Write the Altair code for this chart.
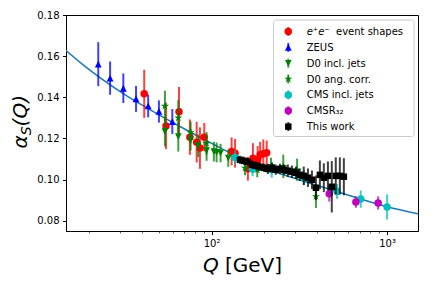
import altair as alt
import pandas as pd

# ---------------- data ----------------
ee_q = [41.3, 55.0, 65.2, 75.2, 82.2, 85.8, 90.8, 130, 136, 161, 172, 183, 189, 197, 206]
ee_a = [0.1417, 0.1261, 0.1330, 0.1206, 0.1182, 0.1153, 0.1206, 0.1137, 0.1128, 0.1052,
        0.1104, 0.1098, 0.1121, 0.1125, 0.1130]
ee_e = [0.0117, 0.0113, 0.0120, 0.0086, 0.0099, 0.0101, 0.0069, 0.0068, 0.0070, 0.0057,
        0.0073, 0.0065, 0.0062, 0.0070, 0.0060]

zeus_q = [22.6, 26.4, 31.4, 37.1, 43.5, 50.1, 59.7]
zeus_a = [0.1561, 0.1493, 0.1444, 0.1392, 0.1358, 0.1331, 0.1282]
zeus_e = [0.0107, 0.0081, 0.0072, 0.0063, 0.0055, 0.0054, 0.0061]

d0i_q = [54.2, 64.6, 75.9, 83.9, 93.6, 103, 106.8, 112.5, 124.4]
d0i_a = [0.1233, 0.1209, 0.1193, 0.1164, 0.1141, 0.1136, 0.1132, 0.1129, 0.1104]
d0i_e = [0.0072, 0.0073, 0.0052, 0.0055, 0.0050, 0.0048, 0.0048, 0.0045, 0.0042]

d0a_q = [54.2, 64.6, 75.9, 93.6, 155, 182, 218, 256, 307, 393]
d0a_a = [0.1357, 0.1300, 0.1229, 0.1176, 0.1056, 0.1048, 0.1069, 0.1064, 0.1048, 0.0918]
d0a_e = [0.0075, 0.0087, 0.0053, 0.0055, 0.0035, 0.0037, 0.0037, 0.0057, 0.0054, 0.0056]

cms_q = [136, 171, 220, 336, 519, 708, 1000]
cms_a = [0.1107, 0.1051, 0.1048, 0.1009, 0.0942, 0.0905, 0.0867]
cms_e = [0.0035, 0.0035, 0.0039, 0.0035, 0.0036, 0.0042, 0.0061]

r32_q = [468, 664, 889]
r32_a = [0.0931, 0.0891, 0.0886]
r32_e = [0.0038, 0.0028, 0.0032]

tw_q = [145, 153, 161, 170, 179, 188, 199, 209, 221, 232, 245, 258, 272, 287, 302, 318,
        335, 354, 373, 393, 414, 436, 460, 484, 510, 538, 567]
tw_a = [0.1096, 0.1091, 0.1086, 0.1072, 0.1067, 0.1062, 0.1057, 0.1052, 0.1057, 0.1048,
        0.1052, 0.1048, 0.1043, 0.1038, 0.1033, 0.1023, 0.1018, 0.1009, 0.0999, 0.0960,
        0.1023, 0.1009, 0.1018, 0.0965, 0.1018, 0.1018, 0.1014]
tw_e = [0.0020, 0.0020, 0.0020, 0.0020, 0.0020, 0.0020, 0.0020, 0.0025, 0.0025, 0.0025,
        0.0025, 0.0025, 0.0030, 0.0030, 0.0030, 0.0030, 0.0045, 0.0045, 0.0045, 0.0060,
        0.0070, 0.0070, 0.0070, 0.0125, 0.0090, 0.0090, 0.0090]

curve_q = [14.8, 19.0, 32.0, 44.5, 66.0, 111.5, 165, 300, 538, 1000, 1500]
curve_a = [0.1627, 0.1550, 0.1413, 0.1340, 0.1258, 0.1155, 0.1082, 0.1005, 0.0937, 0.0868, 0.0834]

legend_labels = ["event shapes", "ZEUS", "D0 incl. jets", "D0 ang. corr.",
                 "CMS incl. jets", "CMSR₃₂", "This work"]

x_major = [100, 1000]
x_minor = [20, 30, 40, 50, 60, 70, 80, 90, 200, 300, 400, 500, 600, 700, 800, 900]
y_ticks = [0.08, 0.10, 0.12, 0.14, 0.16, 0.18]

# ---------------- styles ----------------
TRI_UP = "M0,-1L-1,1L1,1Z"
TRI_DOWN = "M0,1L-1,-1L1,-1Z"
STAR = ("M0,-1L0.225,-0.309L0.951,-0.309L0.363,0.118L0.588,0.809L0,0.382"
        "L-0.588,0.809L-0.363,0.118L-0.951,-0.309L-0.225,-0.309Z")

series = [
    (ee_q, ee_a, ee_e, "#ff0000", "circle", 56),
    (zeus_q, zeus_a, zeus_e, "#0000ff", TRI_UP, 46),
    (d0i_q, d0i_a, d0i_e, "#008000", TRI_DOWN, 44),
    (d0a_q, d0a_a, d0a_e, "#008000", STAR, 70),
    (cms_q, cms_a, cms_e, "#00bfbf", "circle", 56),
    (r32_q, r32_a, r32_e, "#bf00bf", "circle", 56),
    (tw_q, tw_a, tw_e, "#000000", "square", 42),
]

FONT = "DejaVu Sans"
xscale = alt.Scale(type="log", domain=[14.8, 1500], nice=False)
yscale = alt.Scale(domain=[0.075, 0.18], nice=False, zero=False)
yaxis = alt.Axis(values=y_ticks, format=".2f", title=None, tickSize=3.5,
                 labelPadding=3.5, grid=False)

curve_df = pd.DataFrame({"Q": curve_q, "a": curve_a})

layers = []

# minor ticks axis (invisible marks)
layers.append(
    alt.Chart(curve_df).mark_point(opacity=0).encode(
        x=alt.X("Q:Q", scale=xscale, axis=alt.Axis(
            values=x_minor, labels=False, domain=False, tickSize=2, tickWidth=0.6,
            title=None, grid=False, orient="bottom")),
        y=alt.Y("a:Q", scale=yscale, axis=yaxis),
    )
)

# fitted curve with major axis
layers.append(
    alt.Chart(curve_df).mark_line(color="#1f77b4", strokeWidth=1.5, interpolate="monotone",
                                  clip=True).encode(
        x=alt.X("Q:Q", scale=xscale, axis=alt.Axis(
            values=x_major, labelExpr="datum.value == 100 ? '10²' : '10³'",
            tickSize=3.5, labelPadding=3.5, title=None, grid=False, orient="bottom")),
        y=alt.Y("a:Q", scale=yscale, axis=yaxis),
    )
)

for q, a, e, col, shp, sz in series:
    df = pd.DataFrame({"Q": q, "a": a, "e": e})
    df["lo"] = df["a"] - df["e"]
    df["hi"] = df["a"] + df["e"]
    base = alt.Chart(df)
    layers.append(
        base.mark_rule(color=col, strokeWidth=2, opacity=0.75).encode(
            x=alt.X("Q:Q", scale=xscale, axis=None),
            y=alt.Y("lo:Q", scale=yscale, axis=yaxis),
            y2="hi:Q",
        )
    )
    layers.append(
        base.mark_point(shape=shp, size=sz, filled=True, color=col, opacity=1,
                        strokeWidth=0).encode(
            x=alt.X("Q:Q", scale=xscale, axis=None),
            y=alt.Y("a:Q", scale=yscale, axis=yaxis),
        )
    )

# ---------------- legend ----------------
one = pd.DataFrame({"k": [0]})
layers.append(
    alt.Chart(one).mark_rect(fill="white", fillOpacity=0.8, stroke="#cccccc",
                             strokeWidth=1, cornerRadius=2.5).encode(
        x=alt.value(207.5), x2=alt.value(348), y=alt.value(5), y2=alt.value(121.5)
    )
)
for i, (lab, (q, a, e, col, shp, sz)) in enumerate(zip(legend_labels, series)):
    ry = 16.5 + 15.85 * i
    layers.append(
        alt.Chart(one).mark_rule(color=col, strokeWidth=2, opacity=0.75).encode(
            x=alt.value(222.3), y=alt.value(ry - 4.5), y2=alt.value(ry + 4.5)
        )
    )
    layers.append(
        alt.Chart(one).mark_point(shape=shp, size=sz, filled=True, color=col, opacity=1,
                                  strokeWidth=0).encode(
            x=alt.value(222.3), y=alt.value(ry)
        )
    )
    tx = 270 if i == 0 else 240.7
    layers.append(
        alt.Chart(pd.DataFrame({"t": [lab]})).mark_text(
            align="left", baseline="middle", font=FONT, fontSize=10, color="black").encode(
            x=alt.value(tx), y=alt.value(ry + 0.5), text="t:N"
        )
    )
layers.append(
    alt.Chart(pd.DataFrame({"t": ["e⁺e⁻"]})).mark_text(
        align="left", baseline="middle", font=FONT, fontSize=10, fontStyle="italic",
        color="black").encode(x=alt.value(240.7), y=alt.value(16.5), text="t:N")
)

# ---------------- axis titles ----------------
def txt(s, x, y, size=20, italic=True, angle=0):
    kw = dict(align="left", baseline="alphabetic", font=FONT, fontSize=size, color="black")
    if italic:
        kw["fontStyle"] = "italic"
    if angle:
        kw["angle"] = angle
    return alt.Chart(pd.DataFrame({"t": [s]})).mark_text(**kw).encode(
        x=alt.value(x), y=alt.value(y), text="t:N")

layers.append(txt("Q", 137, 257))
layers.append(txt("[GeV]", 159, 257, italic=False))
layers.append(txt("α", -39.5, 133.5, angle=270))
layers.append(txt("S", -35.5, 120.3, size=14, angle=270))
layers.append(txt("(Q)", -39.5, 111.4, angle=270))

chart = alt.layer(*layers).resolve_axis(x="independent").properties(
    width=352, height=216, autosize="none",
    padding={"left": 58, "top": 7, "right": 6, "bottom": 49},
).configure_view(stroke="black", strokeWidth=1).configure_axis(
    domainColor="black", tickColor="black", labelColor="black", labelFont=FONT,
    labelFontSize=10, grid=False, domainWidth=1, tickWidth=1
)

chart.save("out.html", embed_options={"renderer": "svg", "actions": False})
